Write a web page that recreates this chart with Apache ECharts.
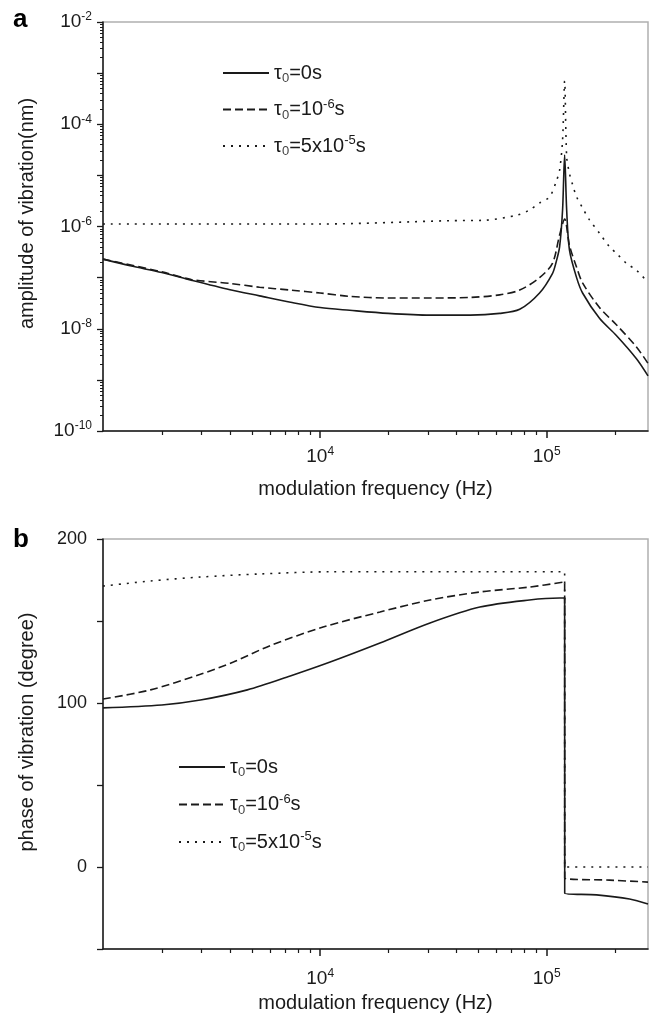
<!DOCTYPE html>
<html><head><meta charset="utf-8">
<script src="https://cdn.jsdelivr.net/npm/echarts@6/dist/echarts.min.js"></script>
<style>html,body{margin:0;padding:0;background:#fff}#c{width:652px;height:1014px}</style>
</head><body><div id="c"></div>
<script>
// ---------- legend / series names ----------
const seriesNames = ['τ0=0s', 'τ0=10-6s', 'τ0=5x10-5s'];
const legendRich = ['{t|τ}{sub|0}{t|=0s}', '{t|τ}{sub|0}{t|=10}{sup|-6}{t|s}', '{t|τ}{sub|0}{t|=5x10}{sup|-5}{t|s}'];

// ---------- panel a : amplitude of vibration (nm) ----------
const ampFreq0 = [1100, 1450, 2000, 2700, 4000, 5400, 7400, 10000, 13500, 20000, 30500, 46000, 62000, 76000, 93000, 106000, 110000, 114000, 117500, 120000, 122500, 126000, 135500, 144000, 171000, 203000, 249000, 280000];
const amp0     = [2.3e-7, 1.7e-7, 1.26e-7, 8.9e-8, 5.8e-8, 4.4e-8, 3.3e-8, 2.6e-8, 2.3e-8, 2.0e-8, 1.85e-8, 1.85e-8, 2.0e-8, 2.4e-8, 5.0e-8, 1.2e-7, 2.0e-7, 4.0e-7, 2.1e-6, 2.5e-5, 2.1e-6, 3.5e-7, 1.0e-7, 5.0e-8, 1.6e-8, 7.4e-9, 2.6e-9, 1.2e-9];

const ampFreq1 = [1100, 2000, 2700, 4000, 5400, 7400, 10000, 13500, 20000, 30500, 46000, 62000, 76000, 93000, 106000, 114000, 120000, 126000, 135500, 144000, 171000, 203000, 249000, 280000];
const amp1     = [2.3e-7, 1.3e-7, 9.2e-8, 7.7e-8, 6.5e-8, 5.7e-8, 5.0e-8, 4.3e-8, 4.0e-8, 4.0e-8, 4.1e-8, 4.6e-8, 5.7e-8, 1.0e-7, 1.9e-7, 6.8e-7, 1.4e-6, 4.3e-7, 1.6e-7, 7.9e-8, 2.6e-8, 1.2e-8, 4.4e-9, 2.1e-9];

const ampFreq2 = [1100, 10000, 37400, 52300, 73800, 83900, 93200, 103000, 110700, 114000, 117500, 120000, 122500, 126000, 130200, 135500, 144000, 154500, 171000, 189500, 203000, 225100, 249000, 280000];
const amp2     = [1.12e-6, 1.12e-6, 1.3e-6, 1.32e-6, 1.66e-6, 2.1e-6, 2.9e-6, 3.8e-6, 8.1e-6, 1.26e-5, 4.9e-5, 7.0e-4, 2.3e-5, 1.1e-5, 6.5e-6, 3.8e-6, 2.3e-6, 1.35e-6, 7.4e-7, 4.0e-7, 3.0e-7, 1.9e-7, 1.4e-7, 8.0e-8];

// ---------- panel b : phase of vibration (degree) ----------
const phFreq0 = [1100, 2000, 2960, 4770, 7380, 11070, 18370, 30540, 50700, 83900, 114000, 120000, 120100, 166000, 232000, 280000];
const ph0     = [97, 98.8, 101.8, 108, 116.5, 125, 136.6, 148.8, 158.5, 162.8, 164, 164, -16, -17, -19.5, -22.6];

const phFreq1 = [1100, 1783, 2960, 4140, 6020, 10300, 18370, 30540, 50700, 83900, 120000, 120100, 189500, 280000];
const ph1     = [102.4, 108, 117.5, 125, 135, 146.3, 155.5, 162.8, 167.7, 170.7, 173.8, -6.7, -8, -9.2];

const phFreq2 = [1100, 1783, 2960, 5448, 11070, 120000, 120100, 280000];
const ph2     = [171.3, 174.4, 176.8, 178.7, 180, 180, 0, 0];

// ---------- axis ticks ----------
const xMin = 1100, xMax = 280000;
const xMajorTicks = [10000, 100000];
const xLabelTicks = [10000, 100000];
const ampMin = 1e-10, ampMax = 1e-2;
const ampDecades = [1e-10, 1e-9, 1e-8, 1e-7, 1e-6, 1e-5, 1e-4, 1e-3, 1e-2];
const ampLabelTicks = [1e-10, 1e-8, 1e-6, 1e-4, 1e-2];
const phaseLabelTicks = [0, 100, 200];
const minorMult = [2, 3, 4, 5, 6, 7, 8, 9];

function minorTicks(decadeStarts, lo, hi) {
  const out = [];
  decadeStarts.forEach(d => minorMult.forEach(m => { const v = d * m; if (v > lo && v < hi) out.push(v); }));
  return out;
}
const xMinorTicks = minorTicks([1000, 10000, 100000], xMin, xMax);
const ampMinorTicks = minorTicks(ampDecades, ampMin, ampMax);

const zip = (a, b) => a.map((v, i) => [v, b[i]]);

const FONT = '"Liberation Sans", Arial, sans-serif';
const INK = '#1a1a1a';
const lineTypes = ['solid', [8, 4], [2, 6]];

const supRich = {
  b: { fontFamily: FONT, fontSize: 19, color: INK, lineHeight: 22 },
  sup: { fontFamily: FONT, fontSize: 12, color: INK, lineHeight: 12, verticalAlign: 'top' }
};
const legendTextRich = {
  t: { fontFamily: FONT, fontSize: 20, color: INK, lineHeight: 24 },
  sub: { fontFamily: FONT, fontSize: 13, color: '#444', lineHeight: 13, verticalAlign: 'bottom' },
  sup: { fontFamily: FONT, fontSize: 13, color: INK, lineHeight: 13, verticalAlign: 'top' }
};
const powLabel = v => '{b|10}{sup|' + Math.round(Math.log10(v)) + '}';

function logXAxes(gridIndex, nameGap, labelMargin) {
  return [{
    gridIndex, type: 'log', logBase: 10, min: xMin, max: xMax, position: 'bottom',
    axisLine: { show: true, onZero: false, lineStyle: { color: INK, width: 1.5 } },
    axisTick: { show: true, customValues: xMajorTicks, length: 7, lineStyle: { color: INK, width: 1.5 } },
    axisLabel: { customValues: xLabelTicks, formatter: powLabel, rich: supRich, margin: labelMargin },
    splitLine: { show: false }, minorTick: { show: false },
    name: 'modulation frequency (Hz)', nameLocation: 'middle', nameGap,
    nameTextStyle: { fontFamily: FONT, fontSize: 20, color: INK }
  }, {
    gridIndex, type: 'log', logBase: 10, min: xMin, max: xMax, position: 'bottom', offset: 0,
    axisLine: { show: false, onZero: false },
    axisTick: { show: true, customValues: xMinorTicks, length: 4, lineStyle: { color: INK, width: 1.2 } },
    axisLabel: { show: false }, splitLine: { show: false }
  }];
}

function mkSeries(name, data, i, xIdx, yIdx) {
  return {
    name, type: 'line', data, xAxisIndex: xIdx, yAxisIndex: yIdx,
    showSymbol: false, symbol: 'none', smooth: 0.3, animation: false,
    lineStyle: { color: INK, width: 1.6, type: lineTypes[i] },
    itemStyle: { color: INK }
  };
}

function mkLegend(left, top, gap) {
  return {
    orient: 'vertical', left, top, padding: 0, itemWidth: 46, itemHeight: 14, itemGap: gap,
    data: seriesNames, selectedMode: false,
    itemStyle: { opacity: 0 },
    formatter: n => legendRich[seriesNames.indexOf(n)],
    textStyle: { rich: legendTextRich, fontFamily: FONT }
  };
}

const option = {
  backgroundColor: '#fff',
  animation: false,
  title: [
    { text: 'a', left: 8, top: 2, textStyle: { fontFamily: FONT, fontSize: 26, fontWeight: 'bold', color: '#000' } },
    { text: 'b', left: 8, top: 522, textStyle: { fontFamily: FONT, fontSize: 26, fontWeight: 'bold', color: '#000' } }
  ],
  legend: [mkLegend(222, 63, 12.5), mkLegend(178, 757, 13.5)],
  grid: [
    { left: 103, top: 22, width: 545, height: 409, show: true, borderColor: '#b0b0b0', borderWidth: 1.5, containLabel: false },
    { left: 103, top: 539, width: 545, height: 410, show: true, borderColor: '#b0b0b0', borderWidth: 1.5, containLabel: false }
  ],
  xAxis: [...logXAxes(0, 48, 15), ...logXAxes(1, 44, 19)],
  yAxis: [{
    gridIndex: 0, type: 'log', logBase: 10, min: ampMin, max: ampMax, position: 'left',
    axisLine: { show: true, onZero: false, lineStyle: { color: INK, width: 1.5 } },
    axisTick: { show: true, customValues: ampDecades, length: 6, lineStyle: { color: INK, width: 1.3 } },
    axisLabel: { customValues: ampLabelTicks, formatter: powLabel, rich: supRich, margin: 11 },
    splitLine: { show: false },
    name: 'amplitude of vibration(nm)', nameLocation: 'middle', nameGap: 66, nameRotate: 90,
    nameTextStyle: { fontFamily: FONT, fontSize: 20, color: INK, padding: [0, 0, 0, 26] }
  }, {
    gridIndex: 0, type: 'log', logBase: 10, min: ampMin, max: ampMax, position: 'left', offset: 0,
    axisLine: { show: false, onZero: false },
    axisTick: { show: true, customValues: ampMinorTicks, length: 3, lineStyle: { color: INK, width: 1 } },
    axisLabel: { show: false }, splitLine: { show: false }
  }, {
    gridIndex: 1, type: 'value', min: -50, max: 200, interval: 50, position: 'left',
    axisLine: { show: true, onZero: false, lineStyle: { color: INK, width: 1.5 } },
    axisTick: { show: true, length: 6, lineStyle: { color: INK, width: 1.3 } },
    axisLabel: { customValues: phaseLabelTicks, fontFamily: FONT, fontSize: 18, color: INK, margin: 16 },
    splitLine: { show: false },
    name: 'phase of vibration (degree)', nameLocation: 'middle', nameGap: 66, nameRotate: 90,
    nameTextStyle: { fontFamily: FONT, fontSize: 20, color: INK, padding: [0, 0, 0, 24] }
  }],
  series: [
    mkSeries(seriesNames[0], zip(ampFreq0, amp0), 0, 0, 0),
    mkSeries(seriesNames[1], zip(ampFreq1, amp1), 1, 0, 0),
    mkSeries(seriesNames[2], zip(ampFreq2, amp2), 2, 0, 0),
    mkSeries(seriesNames[0], zip(phFreq0, ph0), 0, 2, 2),
    mkSeries(seriesNames[1], zip(phFreq1, ph1), 1, 2, 2),
    mkSeries(seriesNames[2], zip(phFreq2, ph2), 2, 2, 2)
  ]
};

const chart = echarts.init(document.getElementById('c'), null, { renderer: 'canvas' });
chart.setOption(option);
</script>
</body></html>
